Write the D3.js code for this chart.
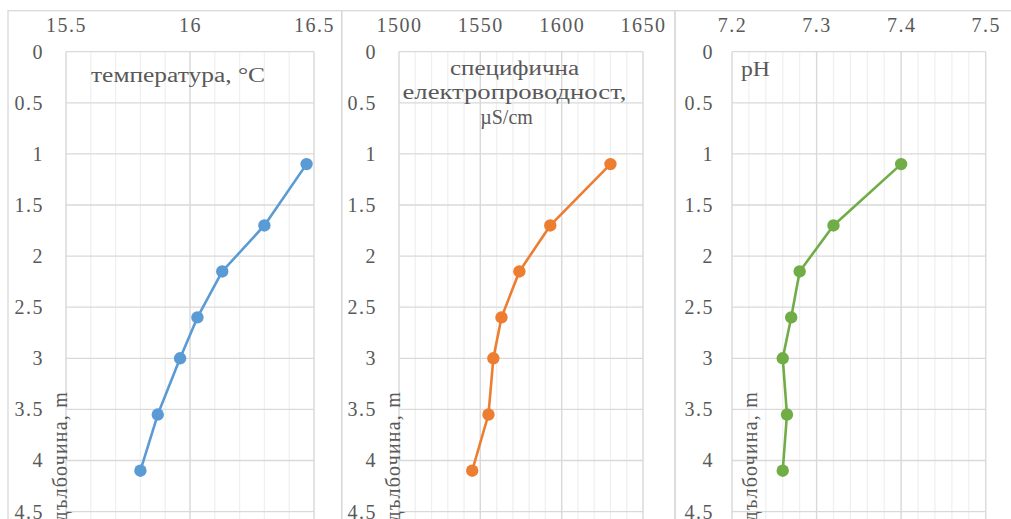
<!DOCTYPE html>
<html>
<head>
<meta charset="utf-8">
<script src="https://cdn.jsdelivr.net/npm/d3@7"></script>
<style>
  body { margin: 0; background: #fff; overflow: hidden; }
  svg { display: block; }
</style>
</head>
<body>
<script>
// depth of every measurement (m)
const depths = [1.1, 1.7, 2.15, 2.6, 3.0, 3.55, 4.1];
// measured values per depth
const temperature = [16.47, 16.30, 16.13, 16.03, 15.96, 15.87, 15.80];
const conductivity = [1630, 1593, 1574, 1563, 1558, 1555, 1545];
const ph = [7.40, 7.32, 7.28, 7.27, 7.26, 7.265, 7.26];

// tick labels
const depthTicks = [0, 0.5, 1, 1.5, 2, 2.5, 3, 3.5, 4, 4.5, 5];
const tempTicks = [15.5, 16, 16.5];
const condTicks = [1500, 1550, 1600, 1650];
const phTicks = [7.2, 7.3, 7.4, 7.5];

// titles
const tempTitle = ["температура, °C"];
const condTitle = ["специфична", "електропроводност,", "µS/cm"];
const phTitle = ["pH"];
const depthTitle = "дълбочина, m";

const FONT = "'Liberation Serif'";
const W = 1011, H = 519;
const svg = d3.select("body").append("svg").attr("width", W).attr("height", H);

//Depth scale shared by all three panels (depth grows downward)
const y = d3.scaleLinear().domain([0, 5]).range([51.7, 562.7]);

//Panel layout (lens = stretched width of each title line, dx = line shift)
const panels = [
  { values: temperature, ticks: tempTicks, title: tempTitle, color: "#5B9BD5",
    box: [8, 341.7], plot: [66, 314], minor: 10, pad: 22,
    titleX: 91, titleY: 82, titleAnchor: "start", lens: [174], dx: [0], labelX: 67 },
  { values: conductivity, ticks: condTicks, title: condTitle, color: "#ED7D31",
    box: [341.7, 675], plot: [399, 643], minor: 15, pad: 22,
    titleX: 514.5, titleY: 75, titleAnchor: "middle", lens: [129, 224, null], dx: [0, 0, -8], labelX: 400 },
  { values: ph, ticks: phTicks, title: phTitle, color: "#70AD47",
    box: [675, 1030], plot: [732, 985.7], minor: 15, pad: 18,
    titleX: 741, titleY: 76, titleAnchor: "start", lens: [29], dx: [0], labelX: 757 }
];

//common text styling
const styleText = sel => sel.style("font-family", FONT).style("font-size", "20px")
  .style("fill", "#595959");

panels.forEach(p => {
  const x = d3.scaleLinear().domain(d3.extent(p.ticks)).range(p.plot);
  const g = svg.append("g");

  //outer chart border
  g.append("rect").attr("x", p.box[0]).attr("y", 10.7)
    .attr("width", p.box[1] - p.box[0]).attr("height", 600)
    .attr("fill", "none").attr("stroke", "#D9D9D9").attr("stroke-width", 1.3);

  //minor vertical grid
  g.append("g").selectAll("line").data(x.ticks(p.minor)).enter().append("line")
    .attr("x1", d => x(d)).attr("x2", d => x(d))
    .attr("y1", y(0)).attr("y2", y(5))
    .attr("stroke", "#F0F0F0").attr("stroke-width", 1.3);

  //major vertical grid
  g.append("g").selectAll("line").data(p.ticks).enter().append("line")
    .attr("x1", d => x(d)).attr("x2", d => x(d))
    .attr("y1", y(0)).attr("y2", y(5))
    .attr("stroke", "#D9D9D9").attr("stroke-width", 1.3);

  //horizontal grid
  g.append("g").selectAll("line").data(depthTicks).enter().append("line")
    .attr("x1", p.plot[0]).attr("x2", p.plot[1])
    .attr("y1", d => y(d)).attr("y2", d => y(d))
    .attr("stroke", "#D9D9D9").attr("stroke-width", 1.3);

  //axes
  const xAxis = d3.axisTop(x).tickValues(p.ticks).tickSize(0).tickPadding(8.3).tickFormat(d3.format(""));
  const yAxis = d3.axisLeft(y).tickValues(depthTicks.slice(0, 10)).tickSize(0).tickPadding(p.pad).tickFormat(d3.format(""));
  const xa = g.append("g").attr("transform", "translate(0,40)").call(xAxis);
  const ya = g.append("g").attr("transform", `translate(${p.plot[0]},0)`).call(yAxis);
  [xa, ya].forEach(a => {
    a.select(".domain").remove();
    a.attr("font-family", null).attr("font-size", null);
    a.selectAll("text").call(styleText).style("letter-spacing", "1.5px");
  });

  //series line + markers
  const pts = depths.map((d, i) => [p.values[i], d]);
  g.append("path").datum(pts)
    .attr("d", d3.line().x(d => x(d[0])).y(d => y(d[1])))
    .attr("fill", "none").attr("stroke", p.color).attr("stroke-width", 2.6)
    .attr("stroke-linejoin", "round");
  g.append("g").selectAll("circle").data(pts).enter().append("circle")
    .attr("cx", d => x(d[0])).attr("cy", d => y(d[1])).attr("r", 6.2)
    .attr("fill", p.color);

  //panel title, one text per line so each can be stretched like the original
  g.append("g").selectAll("text").data(p.title).enter().append("text")
    .attr("text-anchor", p.titleAnchor)
    .attr("x", (d, i) => p.titleX + p.dx[i])
    .attr("y", (d, i) => p.titleY + i * 24.3)
    .attr("textLength", (d, i) => p.lens[i])
    .attr("lengthAdjust", "spacingAndGlyphs")
    .call(styleText)
    .text(d => d);

  //depth axis title
  g.append("text").attr("text-anchor", "end")
    .call(styleText).style("letter-spacing", "1.2px")
    .attr("transform", `translate(${p.labelX},391) rotate(-90)`)
    .text(depthTitle);
});
</script>
</body>
</html>
